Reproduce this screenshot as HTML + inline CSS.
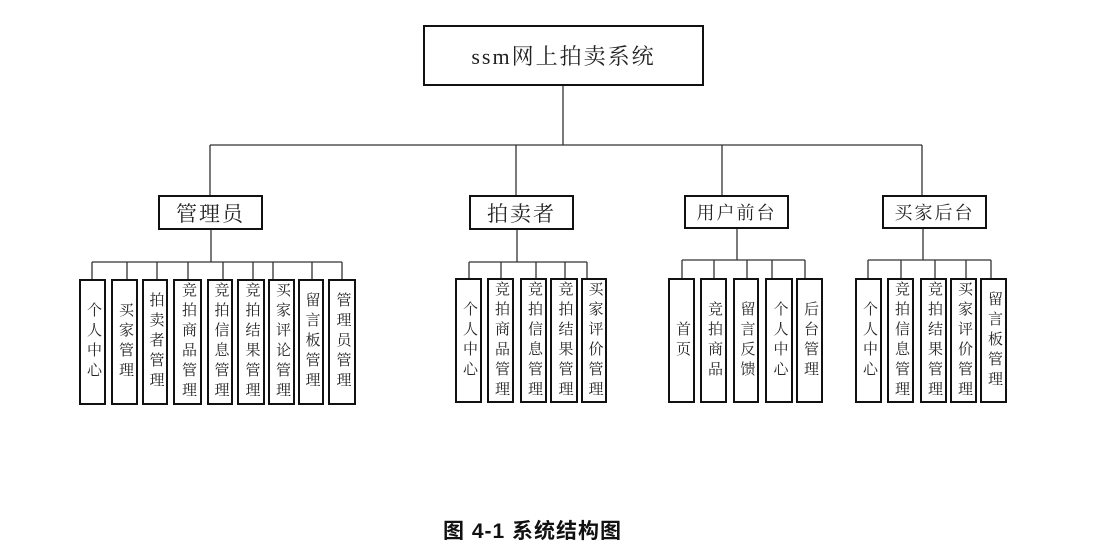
<!DOCTYPE html>
<html><head><meta charset="utf-8"><style>
html,body{margin:0;padding:0;background:#fff;}
body{width:1111px;height:554px;position:relative;overflow:hidden;font-family:"Liberation Serif","Noto Serif CJK SC",serif;}
.b{position:absolute;box-sizing:border-box;border:2px solid #111;display:flex;align-items:center;justify-content:center;color:#222;background:#fff;}
.t{font-size:21px;letter-spacing:2px;}
.c{font-size:15px;}
.c span{writing-mode:vertical-rl;letter-spacing:5px;line-height:1;}
.cap{position:absolute;left:443px;top:515px;font-family:"Liberation Sans","Noto Sans CJK SC",sans-serif;font-size:21px;font-weight:bold;color:#111;letter-spacing:1px;}
</style></head><body>
<svg width="1111" height="554" style="position:absolute;left:0;top:0" stroke="#333" stroke-width="1.3" fill="none">
<line x1="563" y1="86" x2="563" y2="145"/>
<line x1="210" y1="145" x2="922" y2="145"/>
<line x1="210" y1="145" x2="210" y2="195"/>
<line x1="516" y1="145" x2="516" y2="195"/>
<line x1="722" y1="145" x2="722" y2="195"/>
<line x1="922" y1="145" x2="922" y2="195"/>
<!-- 管理员 -->
<line x1="211" y1="230" x2="211" y2="262"/>
<line x1="92" y1="262" x2="342" y2="262"/>
<line x1="92" y1="262" x2="92" y2="279"/><line x1="127" y1="262" x2="127" y2="279"/><line x1="157" y1="262" x2="157" y2="279"/><line x1="188" y1="262" x2="188" y2="279"/><line x1="223" y1="262" x2="223" y2="279"/><line x1="253" y1="262" x2="253" y2="279"/><line x1="273" y1="262" x2="273" y2="279"/><line x1="312" y1="262" x2="312" y2="279"/><line x1="342" y1="262" x2="342" y2="279"/>
<!-- 拍卖者 -->
<line x1="517" y1="230" x2="517" y2="262"/>
<line x1="469" y1="262" x2="587" y2="262"/>
<line x1="469" y1="262" x2="469" y2="278"/><line x1="501" y1="262" x2="501" y2="278"/><line x1="536" y1="262" x2="536" y2="278"/><line x1="565" y1="262" x2="565" y2="278"/><line x1="587" y1="262" x2="587" y2="278"/>
<!-- 用户前台 -->
<line x1="737" y1="229" x2="737" y2="260"/>
<line x1="682" y1="260" x2="805" y2="260"/>
<line x1="682" y1="260" x2="682" y2="278"/><line x1="714" y1="260" x2="714" y2="278"/><line x1="747" y1="260" x2="747" y2="278"/><line x1="772" y1="260" x2="772" y2="278"/><line x1="805" y1="260" x2="805" y2="278"/>
<!-- 买家后台 -->
<line x1="923" y1="229" x2="923" y2="260"/>
<line x1="868" y1="260" x2="991" y2="260"/>
<line x1="868" y1="260" x2="868" y2="278"/><line x1="901" y1="260" x2="901" y2="278"/><line x1="935" y1="260" x2="935" y2="278"/><line x1="966" y1="260" x2="966" y2="278"/><line x1="991" y1="260" x2="991" y2="278"/>
</svg>

<div class="b t" style="left:423px;top:25px;width:281px;height:61px;font-size:22px;">ssm网上拍卖系统</div>
<div class="b t" style="left:158px;top:195px;width:105px;height:35px;">管理员</div>
<div class="b t" style="left:469px;top:195px;width:105px;height:35px;">拍卖者</div>
<div class="b t" style="left:684px;top:195px;width:105px;height:34px;font-size:18px;">用户前台</div>
<div class="b t" style="left:882px;top:195px;width:105px;height:34px;font-size:18px;">买家后台</div>

<div class="b c" style="left:79px;top:279px;width:27px;height:126px;"><span>个人中心</span></div>
<div class="b c" style="left:111px;top:279px;width:27px;height:126px;"><span>买家管理</span></div>
<div class="b c" style="left:142px;top:279px;width:26px;height:126px;"><span>拍卖者管理</span></div>
<div class="b c" style="left:173px;top:279px;width:29px;height:126px;"><span>竞拍商品管理</span></div>
<div class="b c" style="left:207px;top:279px;width:26px;height:126px;"><span>竞拍信息管理</span></div>
<div class="b c" style="left:237px;top:279px;width:28px;height:126px;"><span>竞拍结果管理</span></div>
<div class="b c" style="left:268px;top:279px;width:27px;height:126px;"><span>买家评论管理</span></div>
<div class="b c" style="left:298px;top:279px;width:26px;height:126px;"><span>留言板管理</span></div>
<div class="b c" style="left:328px;top:279px;width:28px;height:126px;"><span>管理员管理</span></div>

<div class="b c" style="left:455px;top:278px;width:27px;height:125px;"><span>个人中心</span></div>
<div class="b c" style="left:487px;top:278px;width:27px;height:125px;"><span>竞拍商品管理</span></div>
<div class="b c" style="left:520px;top:278px;width:27px;height:125px;"><span>竞拍信息管理</span></div>
<div class="b c" style="left:550px;top:278px;width:28px;height:125px;"><span>竞拍结果管理</span></div>
<div class="b c" style="left:581px;top:278px;width:26px;height:125px;"><span>买家评价管理</span></div>

<div class="b c" style="left:668px;top:278px;width:27px;height:125px;"><span>首页</span></div>
<div class="b c" style="left:700px;top:278px;width:27px;height:125px;"><span>竞拍商品</span></div>
<div class="b c" style="left:733px;top:278px;width:26px;height:125px;"><span>留言反馈</span></div>
<div class="b c" style="left:765px;top:278px;width:28px;height:125px;"><span>个人中心</span></div>
<div class="b c" style="left:796px;top:278px;width:27px;height:125px;"><span>后台管理</span></div>

<div class="b c" style="left:855px;top:278px;width:27px;height:125px;"><span>个人中心</span></div>
<div class="b c" style="left:887px;top:278px;width:27px;height:125px;"><span>竞拍信息管理</span></div>
<div class="b c" style="left:920px;top:278px;width:27px;height:125px;"><span>竞拍结果管理</span></div>
<div class="b c" style="left:950px;top:278px;width:27px;height:125px;"><span>买家评价管理</span></div>
<div class="b c" style="left:980px;top:278px;width:27px;height:125px;"><span>留言板管理</span></div>

<div class="cap">图 4-1 系统结构图</div>
</body></html>
